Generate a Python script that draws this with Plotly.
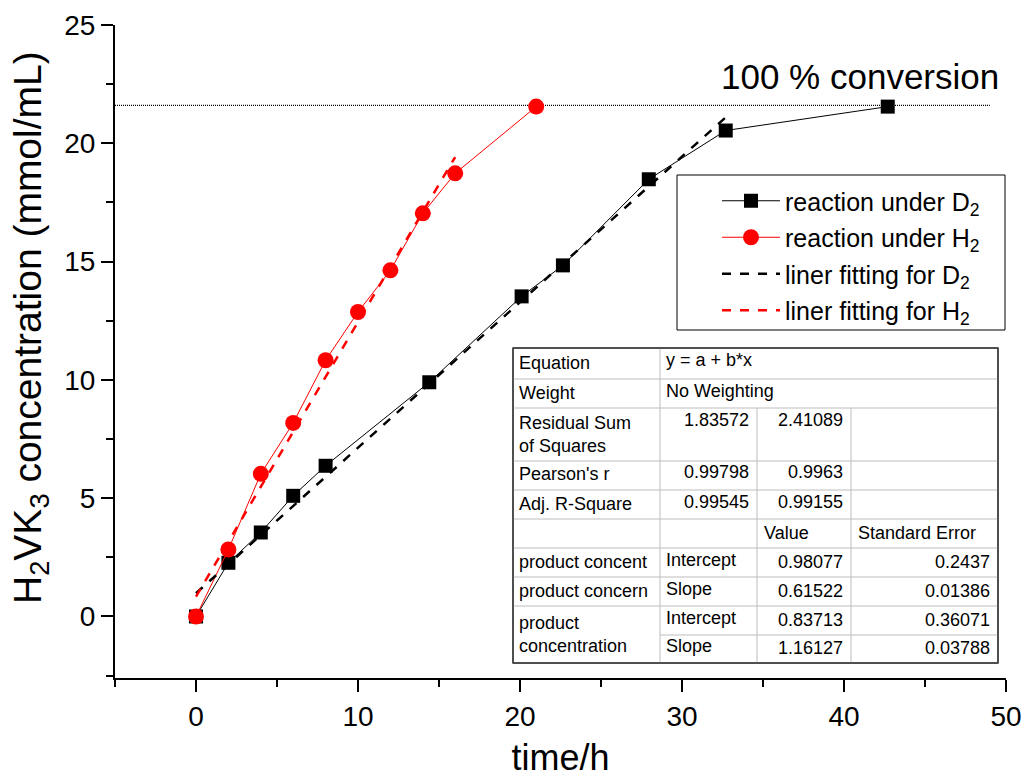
import plotly.graph_objects as go

# ---- data ----
d2_time = [0, 2, 4, 6, 8, 14.4, 20.1, 22.65, 27.95, 32.7, 42.7]
d2_conc = [0, 2.27, 3.55, 5.1, 6.37, 9.9, 13.53, 14.84, 18.48, 20.54, 21.55]

h2_time = [0, 2, 4, 6, 8, 10, 12, 14, 16, 21]
h2_conc = [0, 2.83, 6.03, 8.18, 10.83, 12.87, 14.63, 17.04, 18.73, 21.55]

fit_d2_time = [0, 32.7]
fit_d2_conc = [0.98, 21.10]
fit_h2_time = [0, 16]
fit_h2_conc = [0.84, 19.42]

full_conv_time = [-5, 49]
full_conv_conc = [21.6, 21.6]
full_conv_label_time = 41

x_range = [-5, 50]
y_range = [-2.6, 25]

# table text
tbl_rows_top = [
    ["Equation", "y = a + b*x"],
    ["Weight", "No Weighting"],
]
tbl_rss = ["Residual Sum<br>of Squares", "1.83572", "2.41089"]
tbl_pearson = ["Pearson's r", "0.99798", "0.9963"]
tbl_adjr = ["Adj. R-Square", "0.99545", "0.99155"]
tbl_header = ["", "", "Value", "Standard Error"]
tbl_d2 = [["product concent", "Intercept", "0.98077", "0.2437"],
          ["product concern", "Slope", "0.61522", "0.01386"]]
tbl_h2_name = "product<br>concentration"
tbl_h2 = [["Intercept", "0.83713", "0.36071"],
          ["Slope", "1.16127", "0.03788"]]

FONT = "Liberation Sans, Arial, sans-serif"

fig = go.Figure()

fig.add_trace(go.Scatter(x=full_conv_time, y=full_conv_conc, mode="lines",
                         line=dict(color="black", width=1.3, dash="1px,1px"),
                         showlegend=False, hoverinfo="skip"))
fig.add_trace(go.Scatter(x=d2_time, y=d2_conc, mode="lines+markers",
                         name="reaction under D<sub>2</sub>", legendgroup="a",
                         line=dict(color="black", width=1),
                         marker=dict(symbol="square", size=14, color="black")))
fig.add_trace(go.Scatter(x=h2_time, y=h2_conc, mode="lines+markers",
                         name="reaction under H<sub>2</sub>", legendgroup="b",
                         line=dict(color="red", width=1),
                         marker=dict(symbol="circle", size=16, color="red")))
fig.add_trace(go.Scatter(x=fit_d2_time, y=fit_d2_conc, mode="lines",
                         name="liner fitting for D<sub>2</sub>", legendgroup="c",
                         line=dict(color="black", width=2.5, dash="dash")))
fig.add_trace(go.Scatter(x=fit_h2_time, y=fit_h2_conc, mode="lines",
                         name="liner fitting for H<sub>2</sub>", legendgroup="d",
                         line=dict(color="red", width=2.5, dash="dash")))

# ---- plot geometry in pixels ----
W, H = 1026, 778
L, R, T, B = 115, 1006, 25, 678
PW, PH = R - L, B - T


def px(x):
    return (x - L) / PW


def py(y):
    return (B - y) / PH


shapes = []
annotations = []

# legend frame
shapes.append(dict(type="rect", xref="paper", yref="paper",
                   x0=px(677), x1=px(1005), y0=py(330), y1=py(175),
                   line=dict(color="black", width=1), fillcolor="rgba(0,0,0,0)",
                   layer="above"))

# table geometry (pixels)
tx0, tx1 = 513, 998
c1, c2, c3 = 660, 757, 851
rows = [348, 379, 408, 461, 490, 519, 548, 577, 606, 635, 663]
grid = "#bdbdbd"


def hline(x0, x1, y, color=grid, w=1):
    shapes.append(dict(type="line", xref="paper", yref="paper",
                       x0=px(x0), x1=px(x1), y0=py(y), y1=py(y),
                       line=dict(color=color, width=w)))


def vline(x, y0, y1, color=grid, w=1):
    shapes.append(dict(type="line", xref="paper", yref="paper",
                       x0=px(x), x1=px(x), y0=py(y0), y1=py(y1),
                       line=dict(color=color, width=w)))


shapes.append(dict(type="rect", xref="paper", yref="paper",
                   x0=px(tx0), x1=px(tx1), y0=py(rows[-1]), y1=py(rows[0]),
                   fillcolor="white", line=dict(color="#444444", width=1.5),
                   layer="above"))
for yv in rows[1:9]:
    hline(tx0, tx1, yv)
hline(c1, tx1, rows[9])
vline(c1, rows[0], rows[-1])
vline(c2, rows[2], rows[-1])
vline(c3, rows[2], rows[-1])
hline(tx0, tx1, rows[0], color="#444444", w=1.5)
hline(tx0, tx1, rows[-1], color="#444444", w=1.5)
vline(tx0, rows[0], rows[-1], color="#444444", w=1.5)
vline(tx1, rows[0], rows[-1], color="#444444", w=1.5)

TF = dict(family=FONT, size=18, color="black")


def txt(x, y, s, anchor="left"):
    annotations.append(dict(xref="paper", yref="paper", x=px(x), y=py(y),
                            text=s, showarrow=False, xanchor=anchor,
                            yanchor="middle", font=TF, align="left"))


def mid(i):
    return (rows[i] + rows[i + 1]) / 2 - 1


lx = 517
txt(lx, mid(0), tbl_rows_top[0][0]); txt(664, mid(0) - 3, tbl_rows_top[0][1])
txt(lx, mid(1), tbl_rows_top[1][0]); txt(664, mid(1) - 2, tbl_rows_top[1][1])
txt(lx, 434, tbl_rss[0]); txt(751, 420, tbl_rss[1], "right"); txt(845, 420, tbl_rss[2], "right")
txt(lx, mid(3), tbl_pearson[0]); txt(751, mid(3) - 2, tbl_pearson[1], "right"); txt(845, mid(3) - 2, tbl_pearson[2], "right")
txt(lx, mid(4), tbl_adjr[0]); txt(751, mid(4) - 2, tbl_adjr[1], "right"); txt(845, mid(4) - 2, tbl_adjr[2], "right")
txt(762, mid(5), tbl_header[2]); txt(856, mid(5), tbl_header[3])
for k, row in enumerate(tbl_d2):
    i = 6 + k
    txt(lx, mid(i), row[0]); txt(664, mid(i) - 2, row[1])
    txt(845, mid(i), row[2], "right"); txt(992, mid(i), row[3], "right")
txt(lx, 634, tbl_h2_name)
for k, row in enumerate(tbl_h2):
    i = 8 + k
    txt(664, mid(i) - 2, row[0]); txt(845, mid(i), row[1], "right"); txt(992, mid(i), row[2], "right")

annotations.append(dict(xref="x", yref="paper", x=full_conv_label_time, y=py(77),
                        text="100 % conversion", showarrow=False,
                        xanchor="center", yanchor="middle",
                        font=dict(family=FONT, size=35, color="black")))

# y-axis title (as rotated text so that its centre can follow the reference)
annotations.append(dict(xref="paper", yref="paper", x=px(30), y=py(328),
                        text="H<sub>2</sub>VK<sub>3</sub> concentration (mmol/mL)",
                        textangle=-90, showarrow=False,
                        xanchor="center", yanchor="middle",
                        font=dict(family=FONT, size=39, color="black")))

axis_common = dict(showline=True, linecolor="black", linewidth=2,
                   ticks="outside", ticklen=12, tickwidth=2, tickcolor="black",
                   showgrid=False, zeroline=False, mirror=False, automargin=False,
                   tickfont=dict(family=FONT, size=28, color="black"))

fig.update_layout(
    width=W, height=H,
    margin=dict(l=L, r=W - R, t=T, b=H - B),
    plot_bgcolor="white", paper_bgcolor="white",
    font=dict(family=FONT, color="black"),
    xaxis=dict(range=x_range, tick0=0, dtick=10,
               minor=dict(ticks="outside", ticklen=7, tickwidth=2, dtick=5, tick0=0, tickcolor="black"),
               title=dict(text="time/h", font=dict(family=FONT, size=36), standoff=16),
               **axis_common),
    yaxis=dict(range=y_range, tick0=0, dtick=5,
               minor=dict(ticks="outside", ticklen=7, tickwidth=2, dtick=2.5, tick0=0, tickcolor="black"),
               **axis_common),
    legend=dict(x=px(717), xanchor="left", y=py(178), yanchor="top",
                borderwidth=0, bgcolor="rgba(0,0,0,0)",
                font=dict(family=FONT, size=25, color="black"),
                itemwidth=58, tracegroupgap=1),
    shapes=shapes,
    annotations=annotations,
)

fig.write_html("out.html", config={"displayModeBar": False},
               post_script="document.body.style.margin='0';document.body.style.overflow='hidden';")
